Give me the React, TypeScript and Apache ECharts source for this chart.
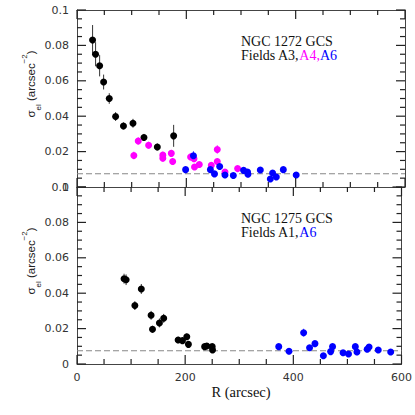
import React, { useEffect, useRef } from "react";
import * as echarts from "echarts";

// [R (arcsec), sigma_el, error]
const ngc1272Black: number[][] = [
  [28.5, 0.083, 0.0085], [34, 0.075, 0.0068], [41.4, 0.0685, 0.006], [48.7, 0.0593, 0.0042],
  [59, 0.05, 0.003], [70.6, 0.0398, 0.0025], [85, 0.0345, 0.002], [102.4, 0.036, 0.0025],
  [122.5, 0.028, 0.002], [146.9, 0.0226, 0.002], [176.8, 0.0289, 0.0062],
];
const ngc1272Magenta: number[][] = [
  [104, 0.0178, 0.0022], [112, 0.026, 0.0022], [131, 0.0236, 0.002], [157, 0.018, 0.002],
  [157, 0.0162, 0.002], [172.5, 0.019, 0.002], [175, 0.0144, 0.002], [207.8, 0.017, 0.002],
  [214, 0.016, 0.0018], [215, 0.0113, 0.0015], [223.7, 0.0127, 0.0015], [245.7, 0.0123, 0.0015],
  [256.6, 0.0212, 0.0025], [256.6, 0.0144, 0.0018], [270.7, 0.0085, 0.0015], [293.8, 0.0104, 0.0015],
];
const ngc1272Blue: number[][] = [
  [198.7, 0.0098, 0.0015], [213, 0.0177, 0.0025], [244, 0.0098, 0.0015], [251.5, 0.0074, 0.0012],
  [261, 0.0116, 0.0015], [270.7, 0.0068, 0.0012], [286, 0.0065, 0.0012], [304.7, 0.0094, 0.0015],
  [312, 0.0085, 0.0012], [312.7, 0.0072, 0.0012], [335.3, 0.0096, 0.0015], [353.6, 0.0045, 0.0012],
  [357.8, 0.0079, 0.0012], [364.6, 0.0056, 0.0012], [377.4, 0.0098, 0.0015], [401, 0.0068, 0.0012],
];
const ngc1275Black: number[][] = [
  [87, 0.0482, 0.0028], [90.8, 0.0476, 0.003], [107, 0.033, 0.0025], [118.9, 0.0424, 0.0028],
  [137, 0.0275, 0.0025], [139.6, 0.0196, 0.002], [152.4, 0.0232, 0.0025], [160.3, 0.0258, 0.0025],
  [187, 0.0136, 0.0018], [195, 0.0132, 0.0018], [203, 0.0154, 0.0018], [206, 0.0111, 0.0015],
  [236, 0.0098, 0.0015], [240, 0.0102, 0.0015], [250, 0.0098, 0.0015], [250.6, 0.0079, 0.0015],
];
const ngc1275Blue: number[][] = [
  [373, 0.0098, 0.0015], [392, 0.0072, 0.0012], [419, 0.0177, 0.0022], [430, 0.0092, 0.0013],
  [440, 0.0115, 0.0015], [455.5, 0.0047, 0.0012], [469, 0.007, 0.0012], [472.5, 0.0098, 0.0015],
  [492, 0.0064, 0.0012], [502, 0.0056, 0.0012], [514.6, 0.0098, 0.0015], [517.6, 0.0068, 0.0012],
  [536.5, 0.0083, 0.0012], [540, 0.0096, 0.0014], [557, 0.0079, 0.0012], [580, 0.0068, 0.0012],
];
const backgroundLevel = [0.0075, 0.0075];
const xRange = [0, 600];
const yRange = [0, 0.1];
const xTickValues = [0, 50, 100, 150, 200, 250, 300, 350, 400, 450, 500, 550, 600];
const yTickValues = [
  0, 0.005, 0.01, 0.015, 0.02, 0.025, 0.03, 0.035, 0.04, 0.045, 0.05,
  0.055, 0.06, 0.065, 0.07, 0.075, 0.08, 0.085, 0.09, 0.095, 0.1,
];

const AXIS_COLOR = "#444";
const TICK_COLOR = "#222";
const LABEL_COLOR = "#333";

function xAxisDef(gridIndex: number, position: "top" | "bottom", showLabels: boolean) {
  return {
    type: "value",
    gridIndex,
    position,
    min: xRange[0],
    max: xRange[1],
    interval: 200,
    axisLine: { show: true, onZero: false, lineStyle: { color: AXIS_COLOR, width: 1 } },
    axisTick: { show: false },
    minorTick: { show: false },
    splitLine: { show: false },
    axisLabel: {
      show: showLabels,
      margin: 8,
      color: LABEL_COLOR,
      fontFamily: "DejaVu Sans",
      fontSize: 11,
    },
  };
}

function yAxisDef(gridIndex: number, position: "left" | "right", showLabels: boolean) {
  return {
    type: "value",
    gridIndex,
    position,
    min: yRange[0],
    max: yRange[1],
    interval: 0.02,
    axisLine: { show: true, onZero: false, lineStyle: { color: AXIS_COLOR, width: 1 } },
    axisTick: { show: false },
    minorTick: { show: false },
    splitLine: { show: false },
    axisLabel: {
      show: showLabels,
      margin: 8,
      color: LABEL_COLOR,
      fontFamily: "DejaVu Sans",
      fontSize: 11,
      formatter: (v: number) => String(+v.toFixed(2)),
    },
  };
}

function isMultiple(v: number, step: number) {
  return Math.abs(v / step - Math.round(v / step)) < 1e-6;
}

function xTicks(xi: number, yi: number) {
  return {
    type: "custom",
    xAxisIndex: xi,
    yAxisIndex: yi,
    data: xTickValues.map((v) => [v, yRange[0]]),
    encode: { x: 0, y: 1 },
    silent: true,
    clip: false,
    z: 5,
    renderItem: (_params: any, api: any) => {
      const v = api.value(0);
      const len = isMultiple(v, 200) ? 9 : 5;
      const b = api.coord([v, yRange[0]]);
      const t = api.coord([v, yRange[1]]);
      const st = { stroke: TICK_COLOR, lineWidth: 1.2 };
      return {
        type: "group",
        children: [
          { type: "line", shape: { x1: b[0], y1: b[1], x2: b[0], y2: b[1] - len }, style: st },
          { type: "line", shape: { x1: t[0], y1: t[1], x2: t[0], y2: t[1] + len }, style: st },
        ],
      };
    },
  };
}

function yTicks(xi: number, yi: number) {
  return {
    type: "custom",
    xAxisIndex: xi,
    yAxisIndex: yi,
    data: yTickValues.map((v) => [xRange[0], v]),
    encode: { x: 0, y: 1 },
    silent: true,
    clip: false,
    z: 5,
    renderItem: (_params: any, api: any) => {
      const v = api.value(1);
      const len = isMultiple(v, 0.02) ? 9 : 5;
      const l = api.coord([xRange[0], v]);
      const r = api.coord([xRange[1], v]);
      const st = { stroke: TICK_COLOR, lineWidth: 1.2 };
      return {
        type: "group",
        children: [
          { type: "line", shape: { x1: l[0], y1: l[1], x2: l[0] + len, y2: l[1] }, style: st },
          { type: "line", shape: { x1: r[0], y1: r[1], x2: r[0] - len, y2: r[1] }, style: st },
        ],
      };
    },
  };
}

function errorBars(data: number[][], color: string, xi: number, yi: number) {
  return {
    type: "custom",
    xAxisIndex: xi,
    yAxisIndex: yi,
    data,
    encode: { x: 0, y: 1 },
    silent: true,
    z: 2,
    renderItem: (_params: any, api: any) => {
      const x = api.value(0);
      const y = api.value(1);
      const e = api.value(2);
      const lo = api.coord([x, y - e]);
      const hi = api.coord([x, y + e]);
      return {
        type: "line",
        shape: { x1: lo[0], y1: lo[1], x2: hi[0], y2: hi[1] },
        style: { stroke: color, lineWidth: 1 },
      };
    },
  };
}

function points(data: number[][], color: string, xi: number, yi: number) {
  return {
    type: "scatter",
    xAxisIndex: xi,
    yAxisIndex: yi,
    data: data.map((d) => [d[0], d[1]]),
    symbol: "circle",
    symbolSize: 7,
    itemStyle: { color, opacity: 1 },
    z: 3,
  };
}

function levelLine(level: number, xi: number, yi: number) {
  return {
    type: "line",
    xAxisIndex: xi,
    yAxisIndex: yi,
    data: [
      [xRange[0], level],
      [xRange[1], level],
    ],
    symbol: "none",
    silent: true,
    lineStyle: { color: "#888", type: [6, 3], width: 1.2 },
    z: 1,
  };
}

const yTitleRich = {
  s: { fontFamily: "Liberation Sans", fontSize: 11.5, fill: "#222", lineHeight: 22, verticalAlign: "middle" },
  sub: { fontFamily: "Liberation Sans", fontSize: 8, fill: "#222", lineHeight: 10, verticalAlign: "bottom" },
  sup: { fontFamily: "Liberation Sans", fontSize: 8, fill: "#222", lineHeight: 10, verticalAlign: "top" },
};

const annRich = {
  k: { fontFamily: "Liberation Serif", fontSize: 14, fill: "#111" },
  m: { fontFamily: "Liberation Serif", fontSize: 14, fill: "#ff00ff" },
  b: { fontFamily: "Liberation Serif", fontSize: 14, fill: "#0000ff" },
};

export default function App() {
  const ref = useRef<HTMLDivElement>(null);

  useEffect(() => {
    if (!ref.current) return;
    const chart = echarts.init(ref.current, undefined, { renderer: "svg" });
    const option: any = {
      animation: false,
      backgroundColor: "#fff",
      grid: [
        { left: 77, top: 10, width: 328, height: 177 },
        { left: 77, top: 187, width: 328, height: 177 },
      ],
      xAxis: [
        xAxisDef(0, "bottom", false),
        xAxisDef(0, "top", false),
        xAxisDef(1, "bottom", true),
        xAxisDef(1, "top", false),
      ],
      yAxis: [
        yAxisDef(0, "left", true),
        yAxisDef(0, "right", false),
        yAxisDef(1, "left", true),
        yAxisDef(1, "right", false),
      ],
      series: [
        levelLine(backgroundLevel[0], 0, 0),
        errorBars(ngc1272Black, "#333", 0, 0),
        errorBars(ngc1272Magenta, "#ff44ff", 0, 0),
        errorBars(ngc1272Blue, "#3333ff", 0, 0),
        points(ngc1272Black, "#000", 0, 0),
        points(ngc1272Magenta, "#ff00ff", 0, 0),
        points(ngc1272Blue, "#0000ff", 0, 0),
        levelLine(backgroundLevel[1], 2, 2),
        errorBars(ngc1275Black, "#333", 2, 2),
        errorBars(ngc1275Blue, "#3333ff", 2, 2),
        points(ngc1275Black, "#000", 2, 2),
        points(ngc1275Blue, "#0000ff", 2, 2),
        xTicks(0, 0),
        yTicks(0, 0),
        xTicks(2, 2),
        yTicks(2, 2),
      ],
      graphic: [
        {
          type: "text",
          x: 31,
          y: 84,
          rotation: Math.PI / 2,
          style: {
            text: "{s|σ}{sub|el}{s| (arcsec}{sup|−2}{s|)}",
            rich: yTitleRich,
            align: "center",
            verticalAlign: "middle",
          },
        },
        {
          type: "text",
          x: 31,
          y: 261,
          rotation: Math.PI / 2,
          style: {
            text: "{s|σ}{sub|el}{s| (arcsec}{sup|−2}{s|)}",
            rich: yTitleRich,
            align: "center",
            verticalAlign: "middle",
          },
        },
        {
          type: "text",
          x: 241,
          y: 41.5,
          style: { text: "{k|NGC 1272 GCS}", rich: annRich, align: "left", verticalAlign: "middle" },
        },
        {
          type: "text",
          x: 241,
          y: 55.5,
          style: { text: "{k|Fields A3,}{m|A4,}{b|A6}", rich: annRich, align: "left", verticalAlign: "middle" },
        },
        {
          type: "text",
          x: 241,
          y: 218.5,
          style: { text: "{k|NGC 1275 GCS}", rich: annRich, align: "left", verticalAlign: "middle" },
        },
        {
          type: "text",
          x: 241,
          y: 232.5,
          style: { text: "{k|Fields A1,}{b|A6}", rich: annRich, align: "left", verticalAlign: "middle" },
        },
        {
          type: "text",
          x: 241,
          y: 392,
          style: {
            text: "R (arcsec)",
            fontFamily: "Liberation Serif",
            fontSize: 14.5,
            fill: "#111",
            align: "center",
            verticalAlign: "middle",
          },
        },
      ],
    };
    chart.setOption(option);
    return () => chart.dispose();
  }, []);

  return (
    <div
      ref={ref}
      style={{ position: "fixed", left: 0, top: 0, width: 415, height: 415, background: "#fff" }}
    />
  );
}
